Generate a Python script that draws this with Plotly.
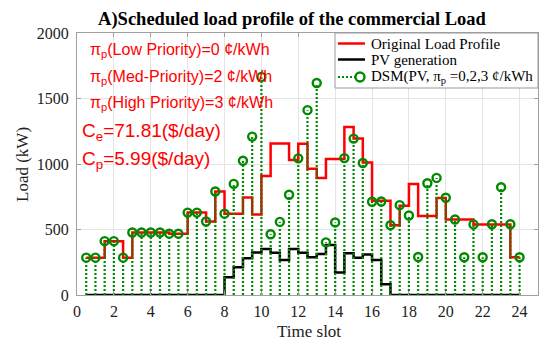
import plotly.graph_objects as go

# Time slots (half-hour resolution)
time_slots = [0.5, 1.0, 1.5, 2.0, 2.5, 3.0, 3.5, 4.0, 4.5, 5.0, 5.5, 6.0,
              6.5, 7.0, 7.5, 8.0, 8.5, 9.0, 9.5, 10.0, 10.5, 11.0, 11.5, 12.0,
              12.5, 13.0, 13.5, 14.0, 14.5, 15.0, 15.5, 16.0, 16.5, 17.0, 17.5, 18.0,
              18.5, 19.0, 19.5, 20.0, 20.5, 21.0, 21.5, 22.0, 22.5, 23.0, 23.5, 24.0]

original_load = [285, 285, 411, 411, 285, 477, 477, 477, 477, 468, 468, 629,
                 629, 561, 790, 621, 621, 745, 614, 908, 1157, 1157, 1030, 1154,
                 963, 894, 1038, 1038, 1283, 1194, 1011, 720, 720, 533, 682, 848,
                 603, 603, 741, 576, 576, 576, 538, 538, 538, 538, 288, 288]

pv_generation = [0, 0, 0, 0, 0, 0, 0, 0, 0, 0, 0, 0,
                 0, 0, 0, 136, 212, 280, 325, 351, 323, 267, 351, 323,
                 288, 313, 381, 171, 318, 285, 310, 267, 83, 0, 0, 0,
                 0, 0, 0, 0, 0, 0, 0, 0, 0, 0, 0, 0]

dsm_load = [285, 285, 411, 411, 285, 477, 477, 477, 477, 468, 468, 629,
            629, 561, 790, 621, 848, 1025, 1209, 1665, 464, 558, 765, 1043,
            1411, 1618, 402, 554, 1045, 1194, 1008, 712, 714, 533, 686, 607,
            290, 853, 894, 742, 576, 288, 539, 288, 540, 823, 540, 288]

x_ticks = [0, 2, 4, 6, 8, 10, 12, 14, 16, 18, 20, 22, 24]
y_ticks = [0, 500, 1000, 1500, 2000]

legend_labels = ["Original Load Profile", "PV generation",
                 "DSM(PV, π<sub>p</sub> =0,2,3 ¢/kWh"]

GREEN = "#008a00"
RED = "#ff0000"
SERIF = "Liberation Serif"
SANS = "Liberation Sans"

fig = go.Figure()

fig.add_trace(go.Scatter(x=time_slots, y=original_load, mode="lines",
                         line=dict(color=RED, width=2.5, shape="hv"),
                         name=legend_labels[0], showlegend=False))
fig.add_trace(go.Scatter(x=time_slots, y=pv_generation, mode="lines",
                         line=dict(color="#000000", width=2.5, shape="hv"),
                         name=legend_labels[1], showlegend=False))

# stems
sx, sy = [], []
for t, v in zip(time_slots, dsm_load):
    sx += [t, t, None]
    sy += [0, v, None]
fig.add_trace(go.Scatter(x=sx, y=sy, mode="lines",
                         line=dict(color=GREEN, width=2.2, dash="2px,2px"),
                         showlegend=False, hoverinfo="skip"))
fig.add_trace(go.Scatter(x=time_slots, y=dsm_load, mode="markers",
                         marker=dict(symbol="circle-open", size=8, color=GREEN,
                                     line=dict(color=GREEN, width=2.4)),
                         name=legend_labels[2], showlegend=False))

L, T, W, H = 77, 33, 461, 262

def px(x):
    return (x - L) / W

def py(y):
    return 1 - (y - T) / H

annos = [
    ("π<sub>p</sub>(Low Priority)=0 ¢/kWh", 88, 50, 16),
    ("π<sub>p</sub>(Med-Priority)=2 ¢/kWh", 88, 77, 16),
    ("π<sub>p</sub>(High Priority)=3 ¢/kWh", 88, 103, 16),
    ("C<sub>e</sub>=71.81($/day)", 80, 132, 19),
    ("C<sub>p</sub>=5.99($/day)", 80, 160, 19),
]
for text, x, y, s in annos:
    fig.add_annotation(text=text, x=px(x), y=py(y), xref="paper", yref="paper",
                       xanchor="left", yanchor="middle", showarrow=False,
                       font=dict(family=SANS, size=s, color=RED))

fig.add_annotation(text="Load (kW)", x=px(22), y=py(165), xref="paper", yref="paper",
                   textangle=-90, showarrow=False, xanchor="center", yanchor="middle",
                   font=dict(family=SERIF, size=17, color="#222222"))
fig.add_annotation(text="Time slot", x=px(309), y=py(331), xref="paper", yref="paper",
                   showarrow=False, xanchor="center", yanchor="middle",
                   font=dict(family=SERIF, size=17, color="#222222"))

# manual legend box
shapes = [
    dict(type="rect", xref="paper", yref="paper", x0=px(335), x1=1, y0=py(88), y1=1,
         line=dict(color="#999999", width=1), fillcolor="white", layer="above"),
    dict(type="line", xref="paper", yref="paper", x0=px(338), x1=px(365),
         y0=py(43.5), y1=py(43.5), line=dict(color=RED, width=2.5), layer="above"),
    dict(type="line", xref="paper", yref="paper", x0=px(338), x1=px(365),
         y0=py(59.5), y1=py(59.5), line=dict(color="#000000", width=2.5), layer="above"),
    dict(type="line", xref="paper", yref="paper", x0=px(338), x1=px(356),
         y0=py(77), y1=py(77), line=dict(color=GREEN, width=2.2, dash="2px,2px"),
         layer="above"),
    dict(type="circle", xref="paper", yref="paper", xsizemode="pixel", ysizemode="pixel",
         xanchor=px(360), yanchor=py(77), x0=-4.5, x1=4.5, y0=-4.5, y1=4.5,
         line=dict(color=GREEN, width=2.4), fillcolor="white", layer="above"),
]
legend_rows = [43.5, 59.5, 77]
for lab, ry in zip(legend_labels, legend_rows):
    fig.add_annotation(text=lab, x=px(369), y=py(ry), xref="paper", yref="paper",
                       xanchor="left", yanchor="middle", showarrow=False,
                       font=dict(family=SERIF, size=15, color="#000000"))

fig.update_layout(
    width=550, height=349,
    margin=dict(l=L, r=550 - L - W, t=T, b=349 - T - H, autoexpand=False),
    paper_bgcolor="white", plot_bgcolor="white",
    title=dict(text="<b>A)Scheduled load profile of the commercial Load</b>",
               x=292 / 550, xref="container", xanchor="center",
               y=1 - 19 / 349, yref="container", yanchor="middle",
               font=dict(family=SERIF, size=18.5, color="#000000")),
    shapes=shapes,
    showlegend=False,
)
fig.update_xaxes(range=[0, 25], tickvals=x_ticks, showgrid=True, gridcolor="#e4e4e4",
                 gridwidth=1, zeroline=False, showline=True, linecolor="#a0a0a0",
                 linewidth=1, mirror="ticks", ticks="inside", ticklen=4,
                 tickcolor="#a0a0a0", automargin=False, ticklabelstandoff=2,
                 tickfont=dict(family=SERIF, size=16, color="#222222"))
fig.update_yaxes(range=[0, 2000], tickvals=y_ticks, showgrid=True, gridcolor="#e4e4e4",
                 gridwidth=1, zeroline=False, showline=True, linecolor="#a0a0a0",
                 linewidth=1, mirror="ticks", ticks="inside", ticklen=4,
                 tickcolor="#a0a0a0", ticklabelstandoff=4, automargin=False,
                 tickfont=dict(family=SERIF, size=16, color="#222222"))

fig.write_html("out.html", config={"displayModeBar": False},
               post_script="document.body.style.margin='0';")
